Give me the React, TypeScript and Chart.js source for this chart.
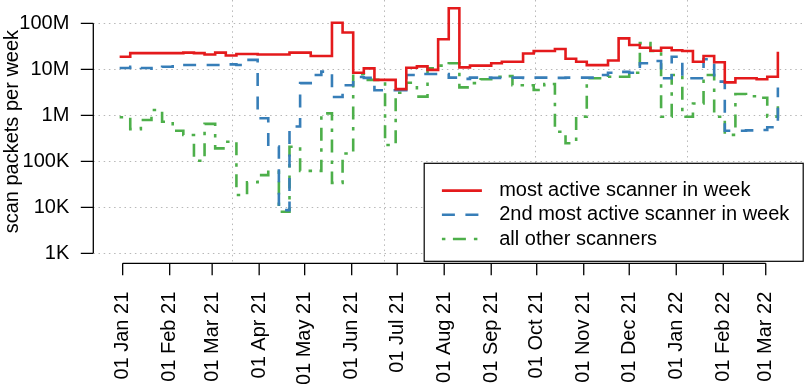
import React, { useEffect, useRef } from "react";
import { Chart, registerables } from "chart.js";

Chart.register(...registerables);

// ---- data ----
const weekStart = "2020-12-30"; // first weekly bucket
const seriesNames = [
  "most active scanner in week",
  "2nd most active scanner in week",
  "all other scanners",
];
const mostActive = [
  18.8e6, 22.5e6, 22.5e6, 22.5e6, 22.5e6, 22.5e6, 23e6, 22.5e6, 21e6, 23e6,
  20e6, 21.5e6, 21.5e6, 21e6, 21e6, 21e6, 23e6, 23e6, 19.5e6, 19.5e6,
  103e6, 63e6, 8.4e6, 10.5e6, 5.9e6, 5.9e6, 3.7e6, 10.8e6, 11.6e6, 9.7e6,
  45e6, 212e6, 11e6, 12e6, 12e6, 13.5e6, 14.6e6, 14.6e6, 22e6, 25e6,
  25e6, 27.6e6, 17e6, 14.6e6, 12.3e6, 12.3e6, 15.5e6, 47e6, 33.7e6, 29.5e6,
  25.4e6, 29.5e6, 26e6, 25e6, 14.6e6, 19.5e6, 14.2e6, 5.2e6, 6.4e6, 6.4e6,
  6.1e6, 6.9e6, 24e6,
];
const secondActive = [
  10.7e6, 11.4e6, 10.7e6, 10.3e6, 11.4e6, 12.4e6, 12.4e6, 12.4e6, 12.4e6, 12.4e6,
  12.8e6, 12.4e6, 16e6, 0.86e6, 0.21e6, 8.7e3, 0.57e6, 5e6, 7.5e6, 8.9e6,
  2.5e6, 4.5e6, 6.8e6, 6.5e6, 3.5e6, 3.5e6, 3.5e6, 7.5e6, 7.9e6, 7.9e6,
  7.9e6, 6.6e6, 6.2e6, 6.6e6, 6.6e6, 6.5e6, 6.6e6, 6.6e6, 6.5e6, 6.6e6,
  6.6e6, 6.5e6, 6.6e6, 6.6e6, 6.6e6, 7.5e6, 8.4e6, 8.8e6, 8.4e6, 13.5e6,
  15.1e6, 6.4e6, 18.8e6, 6.4e6, 6.4e6, 16.5e6, 5.4e6, 0.46e6, 0.46e6, 0.47e6,
  0.48e6, 0.55e6, 4e6,
];
const allOthers = [
  906e3, 500e3, 790e3, 1.3e6, 725e3, 462e3, 372e3, 103e3, 650e3, 191e3,
  267e3, 18.5e3, 35e3, 50e3, 59e3, 8e3, 207e3, 62e3, 62e3, 1.1e6,
  34e3, 148e3, 7.8e6, 5.9e6, 5.9e6, 226e3, 3.1e6, 5.1e6, 2.55e6, 10.5e6,
  12e6, 13.5e6, 4.05e6, 5e6, 6.1e6, 6.9e6, 7.1e6, 4.5e6, 4.5e6, 3.55e6,
  4.8e6, 440e3, 246e3, 935e3, 6.4e6, 6.4e6, 6.9e6, 6.9e6, 8.4e6, 37e6,
  25e6, 930e3, 7.5e6, 930e3, 1.8e6, 7.5e6, 930e3, 375e3, 2.9e6, 2.6e6,
  2.4e6, 935e3, 2.3e6,
];
const xTickDates = [
  "2021-01-01", "2021-02-01", "2021-03-01", "2021-04-01", "2021-05-01",
  "2021-06-01", "2021-07-01", "2021-08-01", "2021-09-01", "2021-10-01",
  "2021-11-01", "2021-12-01", "2022-01-01", "2022-02-01", "2022-03-01",
];
const xTickLabels = [
  "01 Jan 21", "01 Feb 21", "01 Mar 21", "01 Apr 21", "01 May 21",
  "01 Jun 21", "01 Jul 21", "01 Aug 21", "01 Sep 21", "01 Oct 21",
  "01 Nov 21", "01 Dec 21", "01 Jan 22", "01 Feb 22", "01 Mar 22",
];
const xGridDays = [18700, 18800, 18900, 19000];
const yTickValues = [1e3, 1e4, 1e5, 1e6, 1e7, 1e8];
const yTickLabels = ["1K", "10K", "100K", "1M", "10M", "100M"];

// ---- styles ----
const COLORS = ["#E41A1C", "#377EB8", "#4DAF4A"];
const DASHES: number[][] = [[], [13, 10.5], [3.5, 7.5, 13, 8]];
const LINE_W = 2.6;
const FONT = '"Liberation Sans", Arial, Helvetica, sans-serif';
const W = 806;
const H = 384;

const dayNum = (s: string) => Math.round(Date.parse(s + "T00:00:00Z") / 86400000);

const rPlugin = {
  id: "rStyle",
  beforeDatasetsDraw(chart: any) {
    const { ctx, chartArea: a, scales } = chart;
    const x = scales.x;
    const y = scales.y;
    ctx.save();
    ctx.strokeStyle = "#b8b8b8";
    ctx.lineWidth = 1;
    ctx.setLineDash([1.5, 3.7]);
    for (const v of yTickValues) {
      const py = Math.round(y.getPixelForValue(v)) + 0.5;
      ctx.beginPath();
      ctx.moveTo(a.left, py);
      ctx.lineTo(a.right, py);
      ctx.stroke();
    }
    for (const d of xGridDays) {
      const px = Math.round(x.getPixelForValue(d)) + 0.5;
      ctx.beginPath();
      ctx.moveTo(px, a.top);
      ctx.lineTo(px, a.bottom);
      ctx.stroke();
    }
    ctx.restore();
  },
  afterDraw(chart: any) {
    const { ctx, chartArea: a, scales } = chart;
    const x = scales.x;
    const y = scales.y;
    ctx.save();
    ctx.strokeStyle = "#000";
    ctx.lineWidth = 1.3;
    ctx.setLineDash([]);
    // y axis
    const yTop = y.getPixelForValue(yTickValues[yTickValues.length - 1]);
    const yBot = y.getPixelForValue(yTickValues[0]);
    ctx.beginPath();
    ctx.moveTo(a.left, yTop);
    ctx.lineTo(a.left, yBot);
    for (const v of yTickValues) {
      const py = y.getPixelForValue(v);
      ctx.moveTo(a.left, py);
      ctx.lineTo(a.left - 12.5, py);
    }
    ctx.stroke();
    // x axis
    const xs = xTickDates.map((d) => x.getPixelForValue(dayNum(d)));
    ctx.beginPath();
    ctx.moveTo(xs[0], a.bottom);
    ctx.lineTo(xs[xs.length - 1], a.bottom);
    for (const px of xs) {
      ctx.moveTo(px, a.bottom);
      ctx.lineTo(px, a.bottom + 12);
    }
    ctx.stroke();

    // y title
    ctx.save();
    ctx.translate(17.5, (a.top + a.bottom) / 2);
    ctx.rotate(-Math.PI / 2);
    ctx.fillStyle = "#000";
    ctx.font = `20px ${FONT}`;
    ctx.textAlign = "center";
    ctx.textBaseline = "alphabetic";
    ctx.fillText("scan packets per week", 0, 0);
    ctx.restore();

    // legend (bottom right of plot region)
    const lw = 379;
    const lh = 98;
    const lx = a.right - 1 - lw;
    const ly = a.bottom - 2 - lh;
    ctx.fillStyle = "#fff";
    ctx.fillRect(lx, ly, lw, lh);
    ctx.strokeStyle = "#000";
    ctx.lineWidth = 1.2;
    ctx.strokeRect(lx, ly, lw, lh);
    ctx.font = `20px ${FONT}`;
    ctx.textBaseline = "middle";
    ctx.textAlign = "left";
    seriesNames.forEach((name, i) => {
      const ry = ly + 27.3 + i * 24.2;
      ctx.strokeStyle = COLORS[i];
      ctx.lineWidth = LINE_W;
      ctx.setLineDash(DASHES[i]);
      ctx.beginPath();
      ctx.moveTo(lx + 17.7, ry);
      ctx.lineTo(lx + 57.7, ry);
      ctx.stroke();
      ctx.setLineDash([]);
      ctx.fillStyle = "#000";
      ctx.fillText(name, lx + 75, ry);
    });
    ctx.restore();
  },
};

export default function App() {
  const ref = useRef<HTMLCanvasElement | null>(null);

  useEffect(() => {
    if (!ref.current) return;
    const start = dayNum(weekStart);
    const weekDays = mostActive.map((_, i) => start + 7 * i);
    const xFirst = weekDays[0];
    const xLast = weekDays[weekDays.length - 1];
    const xPad = 0.04 * (xLast - xFirst);
    const yLogMin = 2.7826;
    const yLogMax = 8.5066;

    const series = [mostActive, secondActive, allOthers];
    const chart = new Chart(ref.current, {
      type: "line",
      data: {
        datasets: series.map((vals, i) => ({
          label: seriesNames[i],
          data: vals.map((v, j) => ({ x: weekDays[j], y: v })),
          borderColor: COLORS[i],
          backgroundColor: COLORS[i],
          borderWidth: LINE_W,
          borderDash: DASHES[i],
          borderCapStyle: "butt",
          borderJoinStyle: "miter",
          stepped: "before",
          pointRadius: 0,
          fill: false,
          tension: 0,
        })),
      },
      options: {
        responsive: false,
        animation: false,
        devicePixelRatio: 1,
        layout: { padding: { left: 0, right: 1.8, top: 0, bottom: 0 } },
        plugins: { legend: { display: false }, tooltip: { enabled: false } },
        scales: {
          x: {
            type: "linear",
            bounds: "data",
            min: xFirst - xPad,
            max: xLast + xPad,
            grid: { display: false, drawTicks: false, tickLength: 0 },
            border: { display: false },
            afterBuildTicks: (s: any) => {
              s.ticks = xTickDates.map((d) => ({ value: dayNum(d) }));
            },
            afterFit: (s: any) => {
              s.height = H - 263.3;
              s.paddingLeft = 0;
              s.paddingRight = 0;
            },
            ticks: {
              autoSkip: false,
              minRotation: 90,
              maxRotation: 90,
              padding: 28.4,
              color: "#000",
              font: { family: FONT, size: 20 },
              callback: (_v: any, i: number) => xTickLabels[i],
            },
          },
          y: {
            type: "logarithmic",
            bounds: "data",
            min: Math.pow(10, yLogMin),
            max: Math.pow(10, yLogMax),
            grid: { display: false, drawTicks: false, tickLength: 0 },
            border: { display: false },
            afterBuildTicks: (s: any) => {
              s.ticks = yTickValues.map((v) => ({ value: v }));
            },
            afterFit: (s: any) => {
              s.width = 93.3;
              s.paddingTop = 0;
              s.paddingBottom = 0;
            },
            ticks: {
              autoSkip: false,
              padding: 24,
              color: "#000",
              font: { family: FONT, size: 20 },
              callback: (_v: any, i: number) => yTickLabels[i],
            },
          },
        },
      },
      plugins: [rPlugin],
    } as any);
    return () => chart.destroy();
  }, []);

  return (
    <div style={{ position: "fixed", left: 0, top: 0, width: W, height: H, background: "#fff" }}>
      <canvas ref={ref} width={W} height={H} style={{ display: "block", width: W, height: H }} />
    </div>
  );
}
